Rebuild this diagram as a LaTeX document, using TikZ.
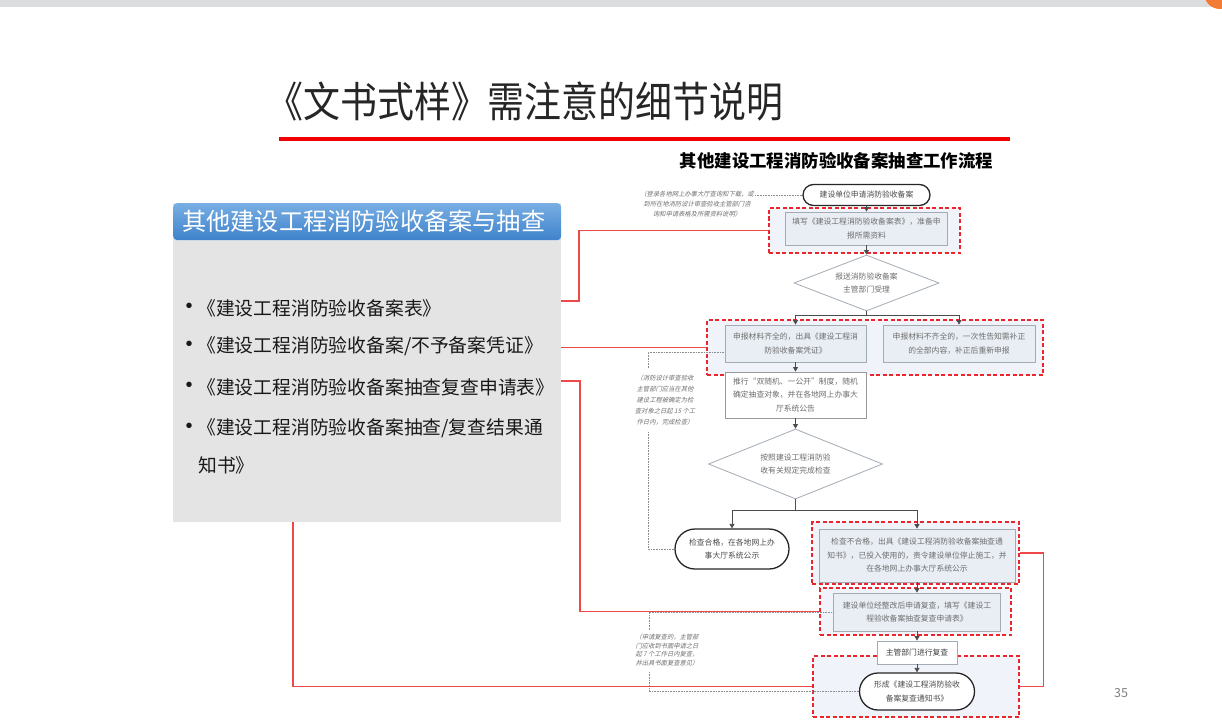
\documentclass[tikz,border=0pt]{standalone}
\usepackage{fontspec}
\setmainfont{Noto Sans CJK SC}
\newfontfamily\titlefont{Noto Sans CJK SC}[FakeStretch=0.88]
\newfontfamily\annfont{Noto Sans CJK SC}[FakeSlant=0.25]
\newfontfamily\bulletfont{Liberation Sans}
\usetikzlibrary{shapes.geometric,shapes.misc,arrows.meta}
\definecolor{flowred}{HTML}{E8262B}
\definecolor{linkred}{HTML}{EE4848}
\definecolor{boxfill}{HTML}{E9EEF5}
\definecolor{zonefill}{HTML}{F0F4FA}
\definecolor{boxline}{HTML}{A3ABB5}
\definecolor{boxtext}{HTML}{6E6E6E}
\definecolor{panelgray}{HTML}{E4E4E4}
\definecolor{headtop}{HTML}{78AEE3}
\definecolor{headbot}{HTML}{3F82CB}
\definecolor{topgray}{HTML}{DCDDDE}
\definecolor{cornerorange}{HTML}{F27B35}
\definecolor{titlered}{HTML}{F00000}
\definecolor{notegray}{HTML}{707070}
\tikzset{
  fbox/.style={draw=boxline, fill=boxfill, line width=0.8pt, text=boxtext,
    font=\fontsize{7.8}{13.5}\selectfont, align=center, inner sep=0pt},
  zone/.style={draw=flowred, dash pattern=on 4pt off 2.5pt, line width=1.4pt,
    fill=zonefill, inner sep=0pt},
  term/.style={rounded rectangle, draw=black!85, line width=1.3pt, fill=white,
    text=black!70, font=\fontsize{7.8}{13.5}\selectfont, align=center, inner sep=0pt},
  dia/.style={diamond, draw=boxline, line width=0.8pt, fill=white, text=boxtext,
    font=\fontsize{7.8}{13.5}\selectfont, align=center, inner sep=0pt},
  arr/.style={-{Triangle[width=5pt,length=4.5pt]}, draw=black!70, line width=0.8pt},
  link/.style={draw=linkred, line width=1.3pt},
  note/.style={draw=black!45, densely dotted, line width=0.6pt},
  notetext/.style={font=\annfont\fontsize{6.3}{10}\selectfont, text=notegray, align=center, inner sep=0pt},
  item/.style={anchor=west, inner sep=0pt, text=black!90, font=\fontsize{18.8}{20}\selectfont},
  bulletmark/.style={inner sep=0pt, text=black!90, font=\bulletfont\fontsize{20}{20}\selectfont},
}
\begin{document}
\begin{tikzpicture}[x=1pt,y=-1pt]
\useasboundingbox (0,0) rectangle (1222,722);
\fill[white] (0,0) rectangle (1222,722);
% top bar
\fill[topgray] (0,0) rectangle (1222,7);
\fill[cornerorange] (1220,-7) circle (16);
% title
\node[anchor=west, inner sep=0pt, text=black!85, font=\titlefont\fontsize{42}{44}\selectfont] (title) at (266,101) {《文书式样》需注意的细节说明};
\fill[titlered] (279,137) rectangle (1010,141);
\node[inner sep=0pt, font=\fontsize{17.4}{20}\selectfont\bfseries] (ftitle) at (836.5,161) {其他建设工程消防验收备案抽查工作流程};

% left panel
\node[fill=panelgray, minimum width=388, minimum height=319, inner sep=0pt, anchor=north west] (panel) at (173,203) {};
\node[top color=headtop, bottom color=headbot, rounded corners=4pt, minimum width=388, minimum height=37, inner sep=0pt, anchor=north west] (head) at (173,203) {};
\node[anchor=west, inner sep=0pt, text=white, font=\fontsize{24.2}{26}\selectfont] (headtext) at (182,221) {其他建设工程消防验收备案与抽查};
\foreach \y/\n in {308/1,346/2,387/3,428/4}{
  \node[bulletmark] (bul\n) at (189,\y) {•};
}
\node[item] (it1) at (197,308) {《建设工程消防验收备案表》};
\node[item] (it2) at (197,346) {《建设工程消防验收备案/不予备案凭证》};
\node[item] (it3) at (197,387) {《建设工程消防验收备案抽查复查申请表》};
\node[item] (it4) at (197,428) {《建设工程消防验收备案抽查/复查结果通};
\node[item] (it4b) at (198,465) {知书》};

% dashed zones
\node[zone, minimum width=191, minimum height=45] (dbox1) at (864.5,230.5) {};
\node[zone, minimum width=336, minimum height=55] (dbox2) at (875,347.5) {};
\node[zone, minimum width=207, minimum height=62] (dbox4) at (915.5,553) {};
\node[zone, minimum width=191, minimum height=47] (dbox5) at (915.5,611.5) {};
\node[zone, minimum width=206, minimum height=61] (dbox6) at (916,686.5) {};

% annotations (dotted)
\node[notetext] (ann1) at (697,204) {（登录各地网上办事大厅查询和下载，或\\到所在地消防设计审查验收主管部门咨\\询和申请表格及所需资料说明）};
\node[notetext, font=\annfont\fontsize{6.3}{11}\selectfont] (ann2) at (665,400) {（消防设计审查验收\\主管部门应当在其他\\建设工程被确定为检\\查对象之日起 15 个工\\作日内，完成检查）};
\node[notetext, font=\annfont\fontsize{6.3}{8.5}\selectfont] (ann3) at (667,650) {（申请复查的，主管部\\门应收到书面申请之日\\起 7 个工作日内复查，\\并出具书面复查意见）};

% flow nodes
\node[term, minimum width=127, minimum height=21] (start) at (866.5,195) {建设单位申请消防验收备案};
\node[fbox, minimum width=162, minimum height=33] (box1) at (866.5,228.5) {填写《建设工程消防验收备案表》，准备申\\报所需资料};
\node[dia, aspect=2.6, minimum width=145, minimum height=56] (dia1) at (866.5,283) {报送消防验收备案\\主管部门受理};
\node[fbox, minimum width=141, minimum height=37] (boxA) at (795.5,343.5) {申报材料齐全的，出具《建设工程消\\防验收备案凭证》};
\node[fbox, minimum width=152, minimum height=37] (boxB) at (959,343.5) {申报材料不齐全的，一次性告知需补正\\的全部内容，补正后重新申报};
\node[fbox, minimum width=141, minimum height=46, draw=black!40, fill=white] (boxC) at (795.5,395) {推行“双随机、一公开”制度，随机\\确定抽查对象，并在各地网上办事大\\厅系统公告};
\node[dia, aspect=2.5, minimum width=174, minimum height=70] (dia2) at (795.5,464) {按照建设工程消防验\\收有关规定完成检查};
\node[term, minimum width=114, minimum height=40] (term2) at (732,549) {检查合格，在各地网上办\\事大厅系统公示};
\node[fbox, minimum width=196, minimum height=53] (box4) at (917,555.5) {检查不合格，出具《建设工程消防验收备案抽查通\\知书》，已投入使用的，责令建设单位停止施工，并\\在各地网上办事大厅系统公示};
\node[fbox, minimum width=167, minimum height=38] (box5) at (917,612) {建设单位经整改后申请复查，填写《建设工\\程验收备案抽查复查申请表》};
\node[fbox, minimum width=80, minimum height=23, fill=white, text=black!75] (box6) at (917,652.5) {主管部门进行复查};
\node[term, minimum width=115, minimum height=37] (term3) at (917,691.5) {形成《建设工程消防验收\\备案复查通知书》};

% flow arrows
\draw[arr] (start) -- (box1);
\draw[arr] (box1) -- (dia1);
\draw[arr] (dia1.south) -- ++(0,4) -| (boxA.north);
\draw[arr] (dia1.south) -- ++(0,4) -| (boxB.north);
\draw[arr] (boxA) -- (boxC);
\draw[arr] (boxC) -- (dia2);
\draw[arr] (dia2.south) -- ++(0,11) -| (term2.north);
\draw[arr] (dia2.south) -- ++(0,11) -| (box4.north);
\draw[arr] (box4) -- (box5);
\draw[arr] (box5) -- (box6);
\draw[arr] (box6) -- (term3);

% dotted annotation links
\coordinate (a1e) at (755,195);
\draw[note] (a1e) -- (start.west);
\coordinate (a2t) at (648,368);
\coordinate (a2c) at (648,352);
\coordinate (a2b) at (648,432);
\coordinate (a2d) at (648,549);
\draw[note] (a2t) -- (a2c) -- (boxA.west |- a2c);
\draw[note] (a2b) -- (a2d) -- (term2.west);
\coordinate (a3t) at (649,630);
\coordinate (a3c) at (649,612);
\coordinate (a3b) at (649,672);
\coordinate (a3d) at (649,691.5);
\draw[note] (a3t) -- (a3c) -- (box5.west);
\draw[note] (a3b) -- (a3d) -- (term3.west);

% red links from the list to the flow chart
\coordinate (p1) at (561,301);
\coordinate (p2) at (561,347.5);
\coordinate (p3) at (561,381);
\coordinate (p4) at (293,522);
\draw[link] (p1) -- ++(18,0) |- (dbox1.west);
\draw[link] (p2) -- (dbox2.west);
\draw[link] (p3) -- ++(19,0) |- (dbox5.west);
\draw[link] (p4) |- (dbox6.west);
\draw[link] (dbox4.east) -- ++(24,0) |- (dbox6.east);

% page number
\node[inner sep=0pt, text=black!50, font=\fontsize{12.5}{14}\selectfont] (pnum) at (1121,693) {35};
\end{tikzpicture}
\end{document}
